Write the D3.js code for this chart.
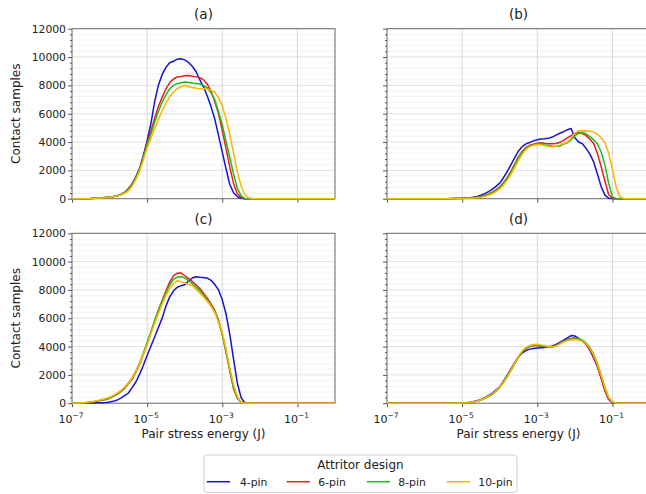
<!DOCTYPE html>
<html>
<head>
<meta charset="utf-8">
<script src="https://cdn.jsdelivr.net/npm/d3@7"></script>
<style>
  body { margin: 0; background: #fff; }
  text { font-family: "DejaVu Sans", sans-serif; fill: #222; }
</style>
</head>
<body>
<svg id="chart" width="646" height="494"></svg>
<script>
// ---- series meta ----
const seriesNames = ["4-pin", "6-pin", "8-pin", "10-pin"];
const seriesColors = ["#1414d2", "#ee1c1c", "#18c018", "#ffb400"];
const panelTitles = ["(a)", "(b)", "(c)", "(d)"];
const yTickValues = [0, 2000, 4000, 6000, 8000, 10000, 12000];
const xTickExponents = [-7, -5, -3, -1];
const legendTitle = "Attritor design";
const xLabel = "Pair stress energy (J)";
const yLabel = "Contact samples";

// ---- histogram counts, sampled every 0.1 decade of energy ----
// first exponent (log10 J) of each panel's arrays
const startA = -6.6, startB = -5.5, startC = -7.0, startD = -5.4;

// (a)
const a4 = [5,12,25,40,60,90,120,160,210,300,440,700,1040,1550,2150,3060,4100,5300,6850,8010,8770,9270,9600,9700,9850,9880,9800,9620,9350,8980,8400,7900,7250,6500,5620,4470,3290,2100,1000,420,150,30,5,0,0];
const a6 = [5,12,25,40,60,90,120,160,210,300,430,680,1020,1500,2100,2950,3950,4790,5690,6510,7170,7740,8200,8450,8590,8620,8680,8700,8640,8600,8550,8400,8080,7600,6860,5990,4820,3540,2230,1080,350,90,20,0,0];
const a8 = [5,12,25,40,60,85,115,155,205,290,420,660,1000,1480,2080,2900,3800,4550,5400,6160,6820,7330,7760,8000,8120,8180,8230,8200,8160,8140,8100,8000,7820,7480,6990,6140,5200,4050,2900,1750,750,200,20,0,0];
const a10 = [3,10,20,35,55,80,110,150,205,280,380,560,880,1350,1950,2750,3600,4250,4960,5590,6230,6750,7220,7520,7780,7900,7990,7900,7850,7800,7770,7760,7730,7650,7530,7120,6550,5680,4530,3230,1910,910,300,60,0];

// (b)
const b4 = [0,5,10,15,25,35,50,65,110,160,240,360,500,660,870,1100,1480,1920,2400,2900,3370,3680,3870,3970,4080,4160,4210,4230,4260,4350,4490,4620,4730,4870,4950,4300,4000,3880,3550,3150,2600,1750,850,250,40,10,0,0,0,0];
const b6 = [0,0,5,10,15,25,35,50,70,100,150,230,330,460,630,840,1120,1500,1950,2450,2950,3350,3620,3780,3850,3920,3950,3900,3880,3880,3900,3980,4120,4300,4450,4600,4680,4600,4450,4200,3900,3200,2250,1250,280,50,0,0,0,0];
const b8 = [0,0,4,8,12,20,30,45,65,95,140,210,300,420,590,800,1070,1430,1880,2380,2880,3280,3560,3720,3800,3850,3870,3800,3750,3700,3700,3720,3850,3950,4150,4450,4620,4650,4580,4380,4150,3880,3300,2390,1080,130,10,0,0,0];
const b10 = [0,0,0,5,10,15,22,32,48,70,105,160,240,350,500,690,950,1300,1720,2200,2700,3150,3480,3680,3780,3820,3800,3760,3680,3650,3720,3800,3900,4000,4250,4650,4780,4800,4780,4760,4700,4550,4300,3950,3200,2100,800,120,10,0];

// (c)
const c4 = [0,0,0,5,10,15,20,30,40,55,80,130,220,360,540,720,1100,1500,2050,2680,3370,4020,4680,5340,6010,6850,7510,7920,8190,8290,8360,8630,8840,8930,8900,8880,8830,8680,8380,8000,7300,6300,4860,3110,1430,400,20,0];
const c6 = [0,5,15,30,50,80,120,170,210,260,350,480,630,820,1050,1370,1700,2200,2730,3450,4200,5000,5800,6580,7250,7930,8550,9000,9180,9200,9000,8800,8600,8370,8100,7770,7420,7020,6550,5850,4850,3600,2280,1030,350,60,0,0];
const c8 = [0,5,15,30,50,80,120,170,220,280,370,500,660,860,1100,1420,1780,2280,2820,3550,4300,5050,5850,6550,7200,7800,8350,8750,8900,8950,8850,8650,8450,8200,7950,7650,7300,6900,6450,5800,4850,3650,2350,1100,380,70,0,0];
const c10 = [0,8,20,40,65,100,145,200,260,330,420,550,710,900,1130,1430,1780,2250,2780,3450,4150,4900,5650,6350,7000,7600,8100,8450,8650,8600,8500,8400,8300,8050,7800,7500,7200,6850,6400,5700,4950,3800,2500,1300,500,50,0,0];

// (d)
const d4 = [0,0,5,12,25,40,70,115,180,270,390,530,700,930,1150,1560,1980,2420,2880,3280,3560,3720,3820,3870,3900,3920,3940,3980,4050,4150,4300,4450,4620,4780,4750,4580,4400,4150,3750,3200,2600,1800,900,270,40,0,0];
const d6 = [0,0,4,9,18,32,55,95,150,230,340,470,630,850,1120,1470,1880,2330,2820,3280,3640,3880,4000,4060,4070,4020,3980,3950,3970,4080,4230,4380,4500,4580,4600,4530,4400,4180,3820,3280,2600,1750,900,280,50,0,0];
const d8 = [0,0,4,9,18,32,55,95,150,230,340,470,630,850,1120,1470,1880,2330,2820,3280,3650,3900,4030,4100,4100,4050,4000,3960,3980,4060,4200,4350,4470,4540,4580,4560,4450,4260,3950,3450,2800,2000,1100,380,80,5,0];
const d10 = [0,0,5,10,20,35,60,100,160,240,350,480,640,860,1130,1480,1900,2350,2850,3330,3700,3950,4080,4150,4170,4120,4080,4000,3980,4050,4180,4320,4420,4480,4500,4470,4380,4200,3900,3400,2750,1950,1100,400,100,10,0];

const panels = [
  { title: panelTitles[0], start: startA, series: [a4, a6, a8, a10], col: 0, row: 0 },
  { title: panelTitles[1], start: startB, series: [b4, b6, b8, b10], col: 1, row: 0 },
  { title: panelTitles[2], start: startC, series: [c4, c6, c8, c10], col: 0, row: 1 },
  { title: panelTitles[3], start: startD, series: [d4, d6, d8, d10], col: 1, row: 1 }
];

// ---- layout ----
const colRange = [[72, 335], [387, 650]];
const rowRange = [[198.7, 28.7], [403.2, 233.3]];
const STEP = 0.1;
const minorY = d3.range(0, 12001, 400).filter(v => v % 2000 !== 0);

const svg = d3.select("#chart");
svg.append("rect").attr("width", 646).attr("height", 494).attr("fill", "#fff");

panels.forEach(p => {
  const x = d3.scaleLog().domain([1e-7, 1]).range(colRange[p.col]);
  const y = d3.scaleLinear().domain([0, 12000]).range(rowRange[p.row]);
  const [x0, x1] = x.range();
  const [yb, yt] = y.range();
  const g = svg.append("g");

  // grid: minor then major
  g.append("g").selectAll("line").data(minorY).join("line")
    .attr("x1", x0).attr("x2", x1)
    .attr("y1", d => y(d)).attr("y2", d => y(d))
    .attr("stroke", "#f0f0f0").attr("stroke-width", 0.8);
  g.append("g").selectAll("line").data(yTickValues.slice(1, -1)).join("line")
    .attr("x1", x0).attr("x2", x1)
    .attr("y1", d => y(d)).attr("y2", d => y(d))
    .attr("stroke", "#dcdcdc").attr("stroke-width", 0.9);
  g.append("g").selectAll("line").data(xTickExponents.slice(1)).join("line")
    .attr("x1", d => x(Math.pow(10, d))).attr("x2", d => x(Math.pow(10, d)))
    .attr("y1", yb).attr("y2", yt)
    .attr("stroke", "#d6d6d6").attr("stroke-width", 0.9);

  // frame
  g.append("rect")
    .attr("x", x0).attr("y", yt).attr("width", x1 - x0).attr("height", yb - yt)
    .attr("fill", "none").attr("stroke", "#666").attr("stroke-width", 1);

  // y axis: major ticks, minor ticks
  const yAxis = d3.axisLeft(y).tickValues(yTickValues).tickSize(4).tickPadding(2)
    .tickFormat(p.col === 1 ? "" : d3.format("d"));
  const ya = g.append("g").attr("transform", `translate(${x0},0)`).call(yAxis);
  ya.select(".domain").remove();
  ya.selectAll(".tick line").attr("stroke", "#555");
  ya.selectAll(".tick text").attr("font-size", "10.8px").attr("fill", "#222")
    .style("font-family", "DejaVu Sans, sans-serif");
  const ym = g.append("g").attr("transform", `translate(${x0},0)`)
    .call(d3.axisLeft(y).tickValues(minorY).tickSize(2).tickFormat(""));
  ym.select(".domain").remove();
  ym.selectAll(".tick line").attr("stroke", "#555");

  // x axis
  const xAxis = d3.axisBottom(x).tickValues(xTickExponents.map(e => Math.pow(10, e)))
    .tickSize(4).tickFormat("");
  const xa = g.append("g").attr("transform", `translate(0,${yb})`).call(xAxis);
  xa.select(".domain").remove();
  xa.selectAll(".tick line").attr("stroke", "#555");
  if (p.row === 1) {
    const lab = g.append("g").selectAll("text").data(xTickExponents).join("text")
      .attr("x", d => x(Math.pow(10, d)) - 1)
      .attr("y", yb + 20)
      .attr("text-anchor", "middle")
      .attr("font-size", "11px");
    lab.append("tspan").text("10");
    lab.append("tspan").attr("dy", "-5").attr("font-size", "7.5px").text(d => "\u2212" + Math.abs(d));
    g.append("text").attr("x", (x0 + x1) / 2).attr("y", yb + 35)
      .attr("text-anchor", "middle").attr("font-size", "12px").text(xLabel);
  }
  if (p.col === 0) {
    g.append("text")
      .attr("transform", `translate(20,${(yb + yt) / 2}) rotate(-90)`)
      .attr("text-anchor", "middle").attr("font-size", "12px").text(yLabel);
  }

  // title
  g.append("text").attr("x", (x0 + x1) / 2).attr("y", yt - 9.5)
    .attr("text-anchor", "middle").attr("font-size", "13.5px").text(p.title);

  // curves
  const line = d3.line().x(d => x(d[0])).y(d => y(d[1]));
  p.series.forEach((vals, si) => {
    const pts = vals.map((v, i) => [Math.pow(10, p.start + i * STEP), v]);
    pts.unshift([1e-7, 0]);
    pts.push([1, 0]);
    g.append("path").datum(pts)
      .attr("d", line)
      .attr("fill", "none")
      .attr("stroke", seriesColors[si])
      .attr("stroke-width", 1.5)
      .attr("stroke-linejoin", "round");
  });
});

// ---- legend ----
const lg = svg.append("g");
lg.append("rect").attr("x", 204).attr("y", 455).attr("width", 313).attr("height", 37.5)
  .attr("rx", 3).attr("fill", "#fff").attr("stroke", "#d0d0d0").attr("stroke-width", 1);
lg.append("text").attr("x", 360.5).attr("y", 469).attr("text-anchor", "middle")
  .attr("font-size", "12px").text(legendTitle);
const item = lg.selectAll("g.item").data(seriesNames).join("g").attr("class", "item")
  .attr("transform", (d, i) => `translate(${206.7 + i * 80},481.7)`);
item.append("line").attr("x1", 0).attr("x2", 23.3).attr("y1", 0).attr("y2", 0)
  .attr("stroke", (d, i) => seriesColors[i]).attr("stroke-width", 1.5);
item.append("text").attr("x", (d, i) => i === 0 ? 33.3 : 31.6).attr("y", 3.8)
  .attr("font-size", "10.8px").text(d => d);
</script>
</body>
</html>
